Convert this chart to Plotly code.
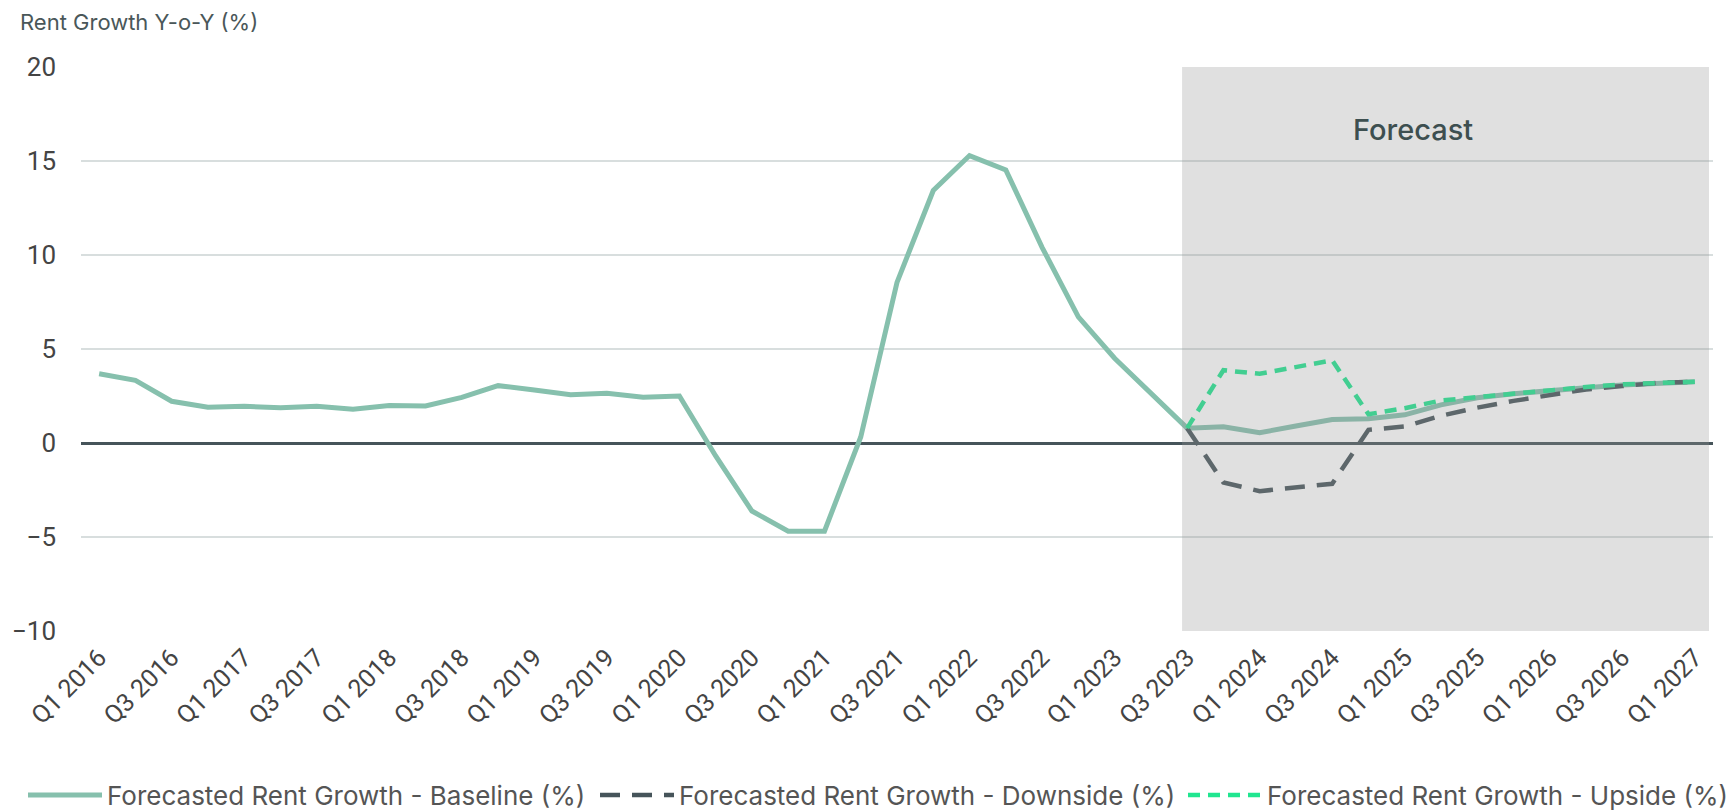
import plotly.graph_objects as go

# Quarter labels, Q1 2016 .. Q1 2027
quarters = [
    "Q1 2016", "Q2 2016", "Q3 2016", "Q4 2016",
    "Q1 2017", "Q2 2017", "Q3 2017", "Q4 2017",
    "Q1 2018", "Q2 2018", "Q3 2018", "Q4 2018",
    "Q1 2019", "Q2 2019", "Q3 2019", "Q4 2019",
    "Q1 2020", "Q2 2020", "Q3 2020", "Q4 2020",
    "Q1 2021", "Q2 2021", "Q3 2021", "Q4 2021",
    "Q1 2022", "Q2 2022", "Q3 2022", "Q4 2022",
    "Q1 2023", "Q2 2023", "Q3 2023", "Q4 2023",
    "Q1 2024", "Q2 2024", "Q3 2024", "Q4 2024",
    "Q1 2025", "Q2 2025", "Q3 2025", "Q4 2025",
    "Q1 2026", "Q2 2026", "Q3 2026", "Q4 2026",
    "Q1 2027",
]

# Year-over-year rent growth (%)
baseline = [
    3.68, 3.33, 2.22, 1.90,
    1.95, 1.88, 1.95, 1.80,
    1.99, 1.97, 2.43, 3.05,
    2.82, 2.57, 2.64, 2.43,
    2.50, -0.69, -3.62, -4.69,
    -4.69, 0.32, 8.54, 13.43,
    15.29, 14.53, 10.41, 6.71,
    4.51, 2.62, 0.79, 0.86,
    0.55, 0.90, 1.25, 1.29,
    1.50, 2.03, 2.41, 2.62,
    2.80, 2.94, 3.08, 3.19,
    3.26,
]

# Scenario paths start at the first forecast quarter
scenario_quarters = quarters[30:]
downside = [
    0.79, -2.10,
    -2.56, -2.35, -2.17, 0.70,
    0.88, 1.45, 1.88, 2.24,
    2.54, 2.85, 3.03, 3.20,
    3.26,
]
upside = [
    0.79, 3.87,
    3.68, 4.03, 4.40, 1.53,
    1.85, 2.26, 2.45, 2.62,
    2.80, 2.98, 3.12, 3.20,
    3.26,
]

forecast_start = "Q3 2023"
tick_labels = quarters[::2]

FONT = "Roboto"
WIDE = "Inter"
W, H = 1731, 811
pos = {q: i for i, q in enumerate(quarters)}
x_base = [pos[q] for q in quarters]
x_scen = [pos[q] for q in scenario_quarters]

fig = go.Figure()
fig.add_trace(go.Scatter(
    x=x_base, y=baseline, mode="lines",
    name="Forecasted Rent Growth - Baseline (%)",
    line=dict(color="#86c0ad", width=5),
    legend="legend",
))
fig.add_trace(go.Scatter(
    x=x_scen, y=downside, mode="lines",
    name="Forecasted Rent Growth - Downside (%)",
    line=dict(color="#46545a", width=4.5, dash="20px,12px"),
    legend="legend2",
))
fig.add_trace(go.Scatter(
    x=x_scen, y=upside, mode="lines",
    name="Forecasted Rent Growth - Upside (%)",
    line=dict(color="#20e690", width=4.5, dash="12px,8px"),
    legend="legend3",
))

# Forecast period shading (translucent overlay above the lines)
fig.add_shape(
    type="rect", xref="x", yref="y",
    x0=pos[forecast_start] - 0.14, x1=len(quarters) - 1 + 0.39,
    y0=-10, y1=20,
    fillcolor="rgba(150,150,150,0.295)", line=dict(width=0),
    layer="above",
)
fig.add_annotation(
    x=36.24, y=16.65, xref="x", yref="y",
    text="Forecast", showarrow=False,
    font=dict(family=WIDE, size=29, color="#3d4f50", weight=500),
)


def legend_at(px):
    # one legend box per series, laid out along the bottom edge
    return dict(
        orientation="h",
        xref="container", yref="container",
        x=px / W, xanchor="left",
        y=1 - 795 / H, yanchor="middle",
        font=dict(family=WIDE, size=26, color="#555555"),
        itemwidth=74,
        bgcolor="rgba(0,0,0,0)",
    )


fig.update_layout(
    width=W, height=H,
    margin=dict(l=81, r=18, t=67, b=180),
    paper_bgcolor="white", plot_bgcolor="white",
    font=dict(family=FONT, color="#444444"),
    title=dict(
        text="Rent Growth Y-o-Y (%)",
        x=20 / W, xanchor="left", xref="container",
        y=1 - 22 / H, yanchor="middle", yref="container",
        font=dict(family=WIDE, size=22, color="#4a5759"),
    ),
    showlegend=True,
    legend=legend_at(23),
    legend2=legend_at(595),
    legend3=legend_at(1183),
)

fig.update_xaxes(
    range=[-0.5, len(quarters) - 0.5],
    tickmode="array", tickvals=x_base[::2], ticktext=tick_labels,
    tickangle=-45, tickfont=dict(family=FONT, size=25, color="#444444"),
    showgrid=False, zeroline=False, showline=False, ticks="",
    ticklabelstandoff=6,
)
fig.update_yaxes(
    range=[-10, 20], tickmode="linear", tick0=-10, dtick=5,
    tickfont=dict(family=FONT, size=26, color="#444444"),
    showgrid=True, gridcolor="#d8dede", gridwidth=1.5,
    zeroline=True, zerolinecolor="#46545a", zerolinewidth=2.5,
    showline=False, ticks="",
    ticklabelstandoff=24,
)

fig.write_html("out.html")
